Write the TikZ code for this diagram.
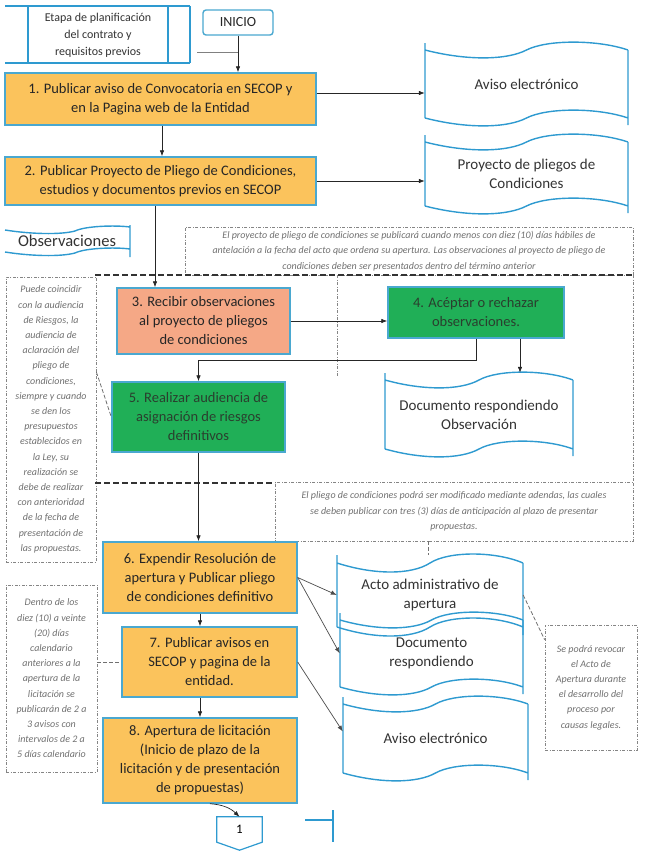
\documentclass[tikz,border=0pt]{standalone}
\usepackage{fontspec}
\setmainfont{Carlito}
\usetikzlibrary{arrows.meta,calc}

\definecolor{boxorange}{HTML}{FBC35C}
\definecolor{boxsalmon}{HTML}{F5A886}
\definecolor{boxgreen}{HTML}{20AF57}
\definecolor{boxline}{HTML}{4AA8D0}
\definecolor{tapeblue}{HTML}{2E9AD0}
\definecolor{notegray}{HTML}{707070}
\definecolor{greentext}{HTML}{2A3F2E}

\newcommand{\boxfont}{\fontsize{14.5}{19}\selectfont}
\newcommand{\notefont}{\fontsize{10}{15.2}\selectfont\itshape}
\newcommand{\tapefont}{\fontsize{15}{19}\selectfont}

% tape document: [amplitude]{name}{x1}{y1}{x2}{y2}{text}
\newcommand{\tapebox}[7][7]{%
  \node[tapetext, minimum width={(#5-#3)*1pt}, minimum height={(#6-#4)*1pt}] (#2) at ({(#3+#5)/2},{(#4+#6)/2}) {#7};
  \draw[tapestroke] (#3,#4) -- (#3,{#6-#1}) (#5,{#4+#1}) -- (#5,#6)
    (#3,{#4+#1}) .. controls ({#3+0.2*(#5-#3)},{#4+2.5*#1}) and ({#3+0.4*(#5-#3)},{#4+2.5*#1}) .. ({(#3+#5)/2},{#4+#1})
      .. controls ({#3+0.6*(#5-#3)},{#4-0.5*#1}) and ({#3+0.85*(#5-#3)},{#4-0.5*#1}) .. (#5,{#4+#1})
    (#3,{#6-#1}) .. controls ({#3+0.2*(#5-#3)},{#6+0.5*#1}) and ({#3+0.4*(#5-#3)},{#6+0.5*#1}) .. ({(#3+#5)/2},{#6-#1})
      .. controls ({#3+0.6*(#5-#3)},{#6-2.5*#1}) and ({#3+0.85*(#5-#3)},{#6-2.5*#1}) .. (#5,{#6-#1});
}

\begin{document}
\begin{tikzpicture}[x=1pt,y=-1pt]
% Styles
\tikzset{
    proc/.style={draw=boxline, line width=1.4pt, inner sep=0pt, align=center, font=\boxfont, text=black!85},
    orangeproc/.style={proc, fill=boxorange},
    salmonproc/.style={proc, fill=boxsalmon},
    greenproc/.style={proc, fill=boxgreen, text=greentext},
    notebox/.style={draw=notegray!85, line width=0.8pt, dash pattern=on 3pt off 1.5pt on 1pt off 1.5pt, inner sep=0pt, align=center, font=\notefont, text=notegray},
    noteedge/.style={draw=notegray!85, line width=0.8pt, dash pattern=on 3pt off 1.5pt on 1pt off 1.5pt},
    notelink/.style={draw=notegray, line width=0.8pt, dash pattern=on 4pt off 2pt},
    flow/.style={draw=black!85, line width=0.7pt, -{Latex[length=6pt,width=4.5pt]}},
    tapestroke/.style={draw=tapeblue, line width=1.4pt},
    tapetext/.style={inner sep=0pt, align=center, font=\tapefont, text=black!80},
    phaseline/.style={draw=black!80, line width=1.4pt, dash pattern=on 6pt off 3pt}
}
\useasboundingbox (0,0) rectangle (645,852);

% Start
\draw[tapestroke] (5,6) -- (190,6) (5,63) -- (190,63) (28,6) -- (28,63) (168,6) -- (168,63) (190,6) -- (190,63);
\node[tapetext, font=\fontsize{12}{17}\selectfont] (Etapa) at (98,35) {Etapa de planificación\\del contrato y\\requisitos previos};
\node[proc, rounded corners=3pt, fill=white, minimum width=70pt, minimum height=25pt, font=\fontsize{14}{16}\selectfont] (Inicio) at (238,22.5) {INICIO};
\coordinate (EtapaOut) at (197,52);
\draw[draw=gray, line width=0.8pt] (EtapaOut) -- (EtapaOut -| Inicio.south);

% Notes
\node[notebox, minimum width=448pt, minimum height=48pt] (N0) at (409,251) {El proyecto de pliego de condiciones se publicará cuando menos con diez (10) días hábiles de\\antelación a la fecha del acto que ordena su apertura. Las observaciones al proyecto de pliego de\\condiciones deben ser presentados dentro del término anterior};
\node[notebox, minimum width=90pt, minimum height=285pt] (N1) at (51,419.5) {Puede coincidir\\con la audiencia\\de Riesgos, la\\audiencia de\\aclaración del\\pliego de\\condiciones,\\siempre y cuando\\se den los\\presupuestos\\establecidos en\\la Ley, su\\realización se\\debe de realizar\\con anterioridad\\de la fecha de\\presentación de\\las propuestas.};
\node[notebox, minimum width=358pt, minimum height=59pt] (N2) at (454,511.5) {El pliego de condiciones podrá ser modificado mediante adendas, las cuales\\se deben publicar con tres (3) días de anticipación al plazo de presentar\\propuestas.};
\node[notebox, minimum width=91pt, minimum height=187pt] (N3) at (51.5,678.5) {Dentro de los\\diez (10) a veinte\\(20) días\\calendario\\anteriores a la\\apertura de la\\licitación se\\publicarán de 2 a\\3 avisos con\\intervalos de 2 a\\5 días calendario};
\node[notebox, minimum width=92pt, minimum height=125pt] (N4) at (591,687.5) {Se podrá revocar\\el Acto de\\Apertura durante\\el desarrollo del\\proceso por\\causas legales.};

% Phase frame
\draw[phaseline] (95,275) -- (633,275);
\draw[phaseline] (95,483) -- (275,483);
\draw[noteedge] (633,275) -- (633,482);
\coordinate (N0drop) at (337,377);
\draw[noteedge] (N0drop |- N0.south) -- (N0drop);

% Steps
\node[orangeproc, minimum width=311pt, minimum height=52pt] (P1) at (160.5,99) {1. Publicar aviso de Convocatoria en SECOP y\\en la Pagina web de la Entidad};
\node[orangeproc, minimum width=311pt, minimum height=48pt] (P2) at (160.5,181) {2. Publicar Proyecto de Pliego de Condiciones,\\estudios y documentos previos en SECOP};
\node[salmonproc, minimum width=173pt, minimum height=66pt] (P3) at (203.5,321) {3. Recibir observaciones\\al proyecto de pliegos\\de condiciones};
\node[greenproc, minimum width=176pt, minimum height=51pt] (P4) at (476,312.5) {4. Acéptar o rechazar\\observaciones.};
\node[greenproc, minimum width=173pt, minimum height=70pt] (P5) at (198.5,417) {5. Realizar audiencia de\\asignación de riesgos\\definitivos};
\node[orangeproc, minimum width=194pt, minimum height=71pt] (P6) at (200,577.5) {6. Expendir Resolución de\\apertura y Publicar pliego\\de condiciones definitivo};
\node[orangeproc, minimum width=175pt, minimum height=70pt] (P7) at (209.5,662) {7. Publicar avisos en\\SECOP y pagina de la\\entidad.};
\node[orangeproc, minimum width=194pt, minimum height=85pt] (P8) at (200,760.5) {8. Apertura de licitación\\(Inicio de plazo de la\\licitación y de presentación\\de propuestas)};

% Documents
\tapebox{A1}{425}{43}{628}{125}{Aviso electrónico}
\tapebox{Proy}{425}{135}{628}{213}{Proyecto de pliegos de\\Condiciones}
\tapebox{Dobs}{385}{373}{573}{456}{Documento respondiendo\\Observación}
\tapebox[8]{Acto}{337}{555}{523}{635}{Acto administrativo de\\apertura}
\tapebox{Dresp}{340}{613}{523}{694}{Documento\\respondiendo}
\tapebox{A2}{343}{697}{528}{780}{Aviso electrónico}

\node[tapetext, font=\fontsize{16.5}{19}\selectfont] (Obs) at (67,241) {Observaciones};
\draw[tapestroke] (130,225) -- (130,257)
    (5,230) .. controls (30,234) and (60,235) .. (75,231) .. controls (85,226) and (115,225) .. (130,227)
    (5,252) .. controls (30,256) and (60,257) .. (75,253) .. controls (85,248) and (115,247) .. (130,249);

% Off-page connector
\node[inner sep=0pt, minimum width=45pt, minimum height=25pt, font=\fontsize{13}{15}\selectfont] (C1) at (239.5,829.5) {1};
\draw[tapestroke, line width=1.2pt] (C1.north west) -- (C1.north east) -- (C1.south east) -- ($(C1.south)+(0,8)$) -- (C1.south west) -- cycle;
\draw[tapestroke] (305,820) -- (333,820) (333,810) -- (333,842);

% Connection
\draw[flow] (Inicio.south) -- (Inicio.south |- P1.north);
\draw[flow] ([xshift=1.5pt]P1.south) -- ([xshift=1.5pt]P2.north);
\draw[flow] ([yshift=6pt]P1.east) -- ([yshift=6pt]P1.east -| A1.west);
\draw[flow] (P2.east) -- (P2.east -| Proy.west);
\draw[flow] ([xshift=-5.5pt]P2.south) -- ([xshift=-5.5pt]P2.south |- P3.north);
\draw[flow] (P3.east) -- (P3.east -| P4.west);
\draw[flow] (P4.south) -- ++(0,22) -| (P5.north);
\draw[flow] ([xshift=44pt]P4.south) -- ([xshift=44pt]P4.south |- Dobs.north);
\draw[flow] (P5.south) -- (P5.south |- P6.north);
\draw[flow] (P6.south) -- (P6.south |- P7.north);
\draw[flow] (P8.north |- P7.south) -- (P8.north);
\draw[flow, draw=black!70] (P6.east) -- (Acto.west);
\draw[flow, draw=black!70] (P6.east) -- (Dresp.west);
\draw[flow, draw=black!70] (P7.east) -- ([yshift=7pt]A2.west);
\draw[flow] ([xshift=10pt]P8.south) to[bend left=20] (C1.north);

% Note links
\draw[notelink] ([yshift=47.5pt]N1.east) -- (P5.west);
\draw[notelink] (N3.east |- P7.west) -- (P7.west);
\draw[notelink] (Acto.east) -- ([yshift=-15pt]N4.north west);
\draw[notelink] ([xshift=-26pt]N2.south) -- ([xshift=-26pt]N2.south |- Acto.north);
\end{tikzpicture}
\end{document}
